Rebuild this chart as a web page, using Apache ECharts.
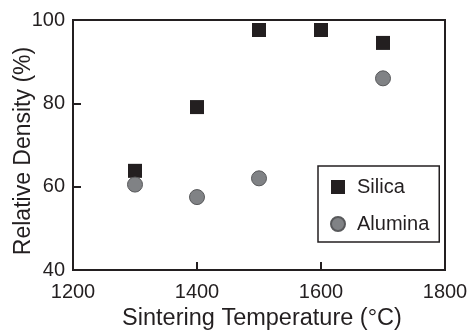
<!DOCTYPE html>
<html>
<head>
<meta charset="utf-8">
<script src="https://cdn.jsdelivr.net/npm/echarts@6/dist/echarts.min.js"></script>
<style>html,body{margin:0;padding:0;background:#fff}#c{width:471px;height:333px}</style>
</head>
<body>
<div id="c"></div>
<script>
const silicaX = [1300, 1400, 1500, 1600, 1700];
const silicaY = [63.8, 79.1, 97.6, 97.6, 94.5];
const aluminaX = [1300, 1400, 1500, 1700];
const aluminaY = [60.5, 57.5, 62.0, 86.0];
const xTicks = [1200, 1400, 1600, 1800];
const yTicks = [40, 60, 80, 100];
const seriesNames = ['Silica', 'Alumina'];
const xTitle = 'Sintering Temperature (°C)';
const yTitle = 'Relative Density (%)';

const ink = '#231f20';
const font = 'Liberation Sans, Arial, Helvetica, sans-serif';
const chart = echarts.init(document.getElementById('c'));
chart.setOption({
  animation: false,
  backgroundColor: '#fff',
  grid: { left: 73, right: 26, top: 20, bottom: 63, containLabel: false, outerBoundsMode: 'none', show: true, borderColor: ink, borderWidth: 2, backgroundColor: 'transparent' },
  legend: {
    orient: 'vertical', left: 318, top: 166,
    padding: [11, 10, 8, 12],
    itemGap: 17, itemWidth: 14, itemHeight: 14,
    borderColor: ink, borderWidth: 1.5,
    textStyle: { fontFamily: font, fontSize: 20, color: ink, lineHeight: 20, padding: [0, 0, 0, 7] },
    data: [{ name: seriesNames[0], icon: 'rect' }, { name: seriesNames[1], icon: 'circle' }]
  },
  xAxis: {
    type: 'value', min: xTicks[0], max: xTicks[xTicks.length - 1], interval: 200,
    name: xTitle, nameLocation: 'middle', nameGap: 37, nameMoveOverlap: false,
    nameTextStyle: { fontFamily: font, fontSize: 23.5, color: ink, padding: [0, 0, 0, 6] },
    axisLine: { show: true, lineStyle: { color: ink, width: 2 } },
    axisTick: { show: true, inside: true, length: 8, lineStyle: { color: ink, width: 2 } },
    axisLabel: { fontFamily: font, fontSize: 20, color: ink, margin: 12, formatter: v => String(v) },
    splitLine: { show: false }
  },
  yAxis: {
    type: 'value', min: yTicks[0], max: yTicks[yTicks.length - 1], interval: 20,
    name: yTitle, nameLocation: 'middle', nameGap: 38, nameMoveOverlap: false,
    nameTextStyle: { fontFamily: font, fontSize: 23, color: ink, padding: [0, 12, 0, 0] },
    axisLine: { show: true, lineStyle: { color: ink, width: 2 } },
    axisTick: { show: true, inside: true, length: 8, lineStyle: { color: ink, width: 2 } },
    axisLabel: { fontFamily: font, fontSize: 20, color: ink, margin: 8, formatter: v => String(v) },
    splitLine: { show: false }
  },
  series: [
    {
      name: seriesNames[0], type: 'scatter', symbol: 'rect', symbolSize: 14,
      itemStyle: { color: ink, opacity: 1 },
      data: silicaX.map((x, i) => [x, silicaY[i]])
    },
    {
      name: seriesNames[1], type: 'scatter', symbol: 'circle', symbolSize: 15,
      itemStyle: { color: '#808285', borderColor: '#58595b', borderWidth: 1, opacity: 1 },
      data: aluminaX.map((x, i) => [x, aluminaY[i]])
    }
  ]
});
</script>
</body>
</html>
